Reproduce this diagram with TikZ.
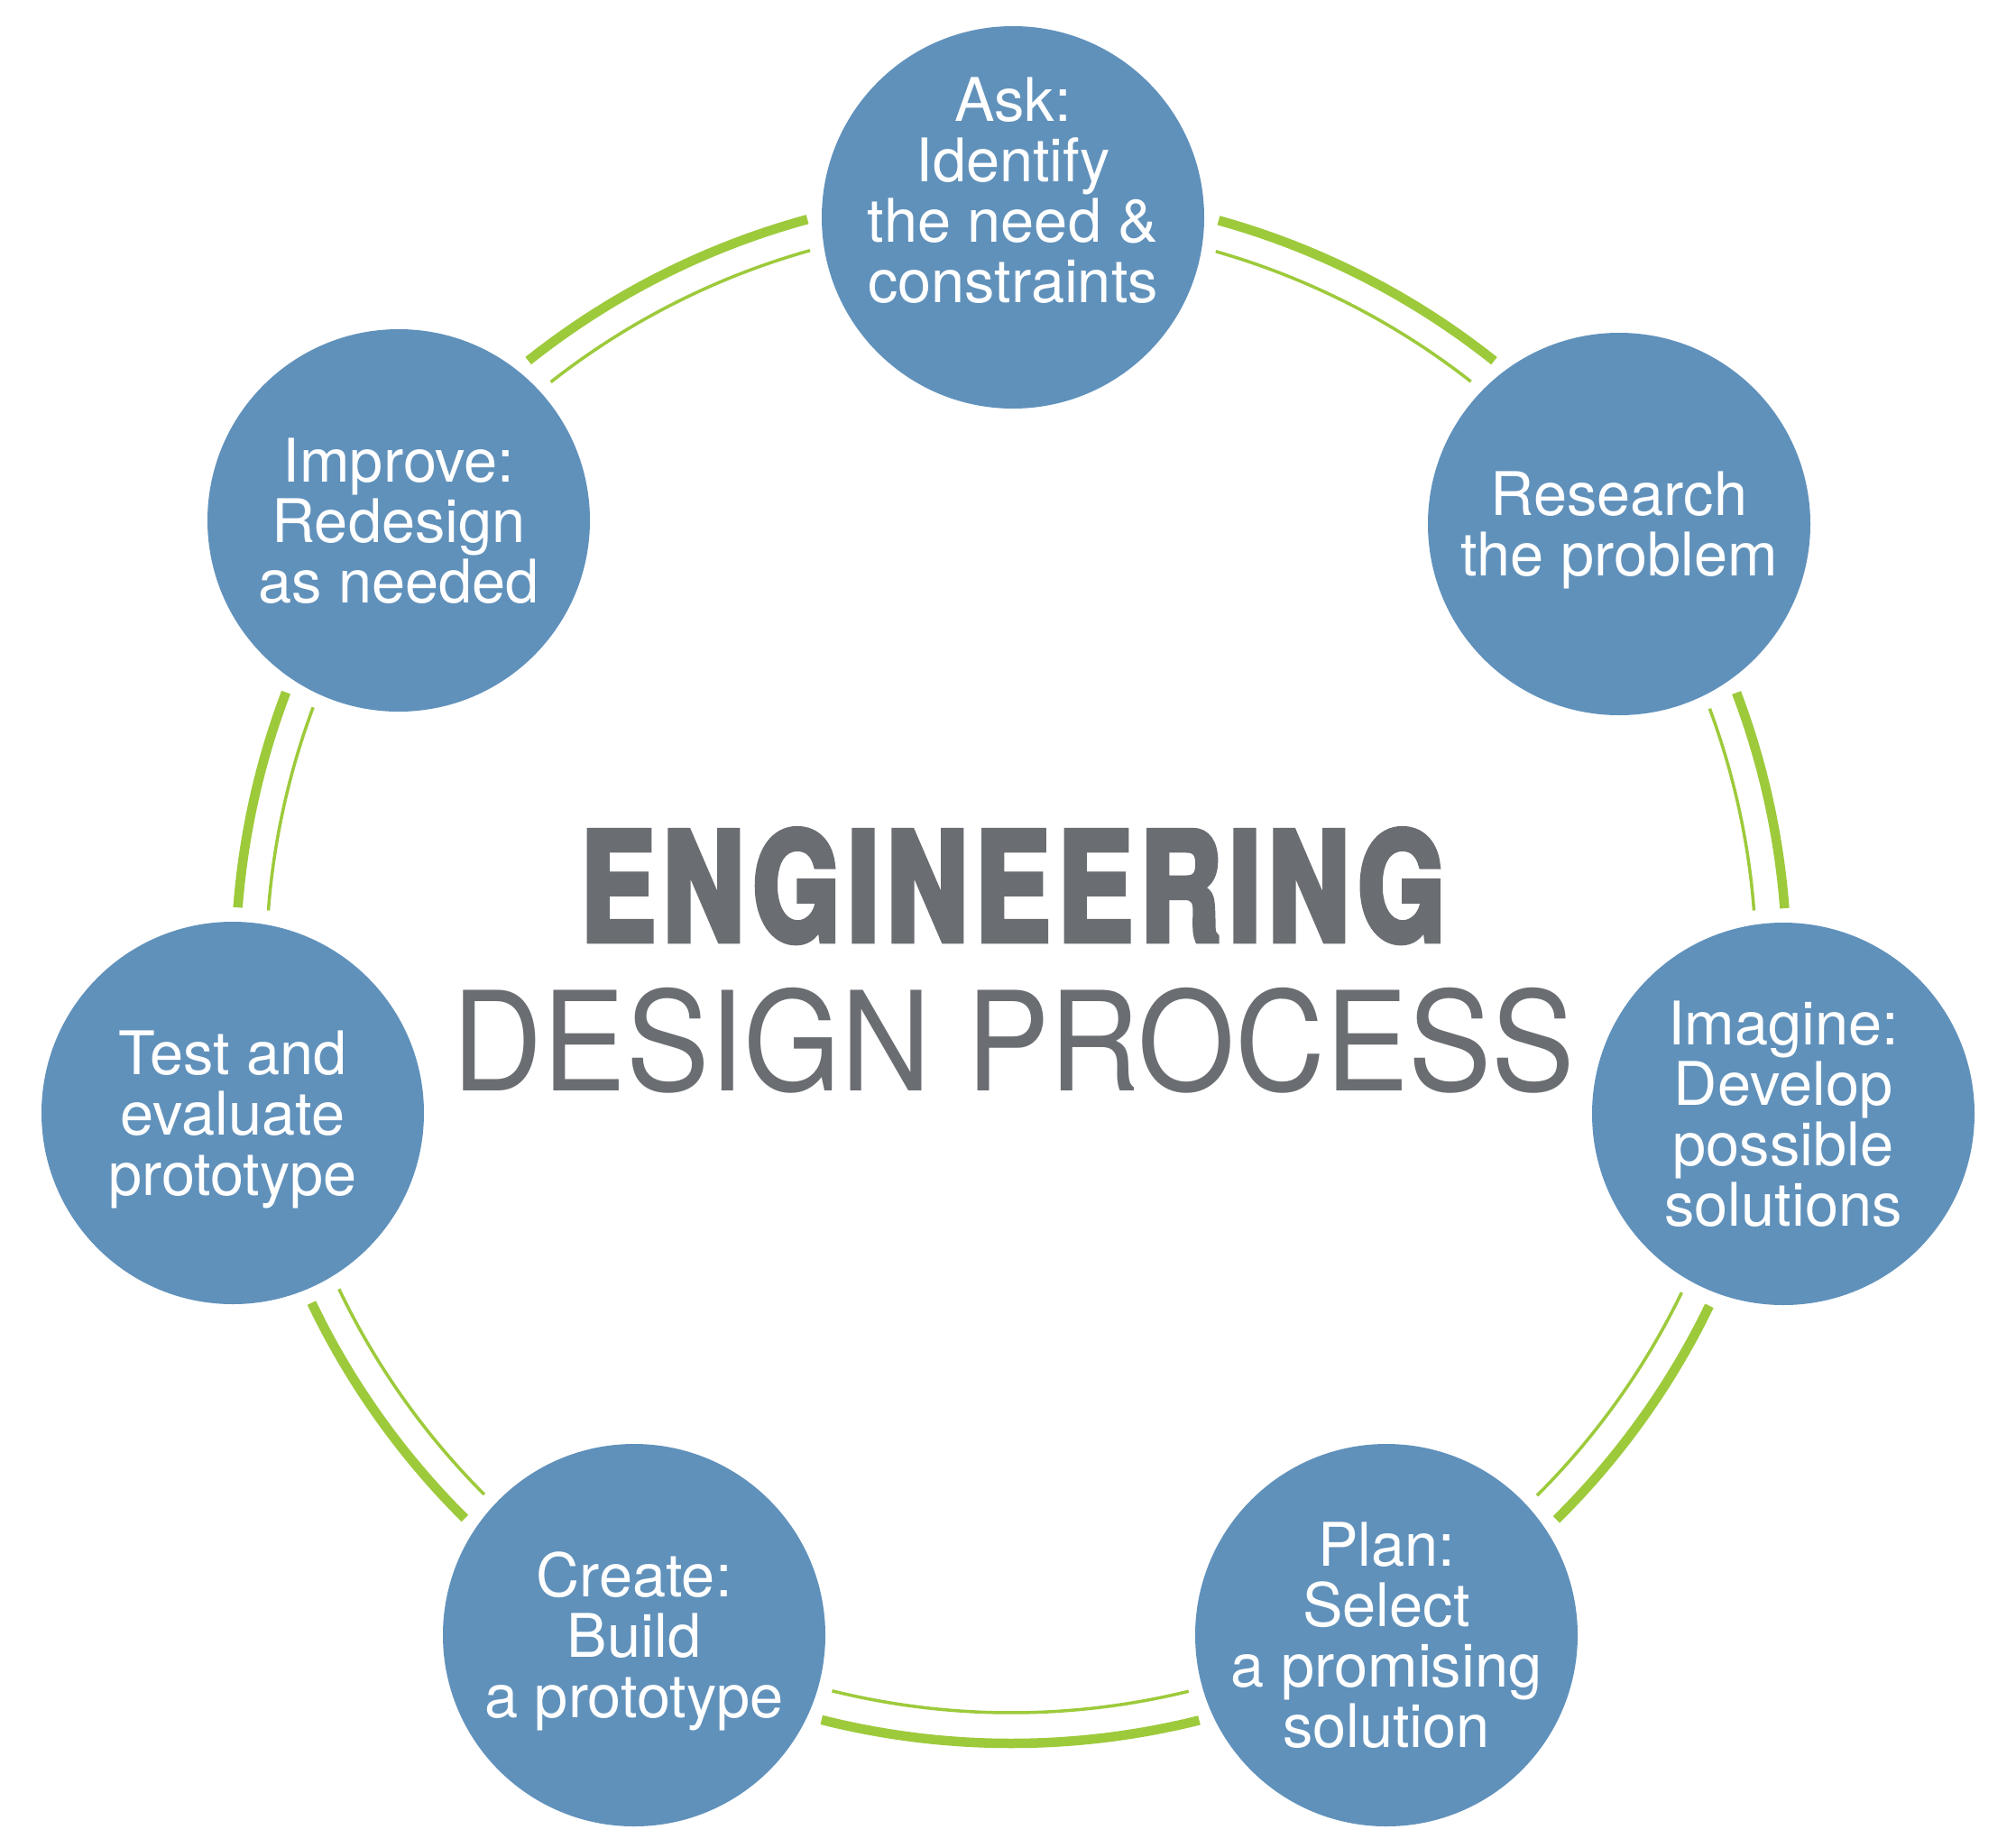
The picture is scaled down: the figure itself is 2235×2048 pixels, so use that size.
\documentclass[tikz,border=0pt]{standalone}
\usepackage{fontspec}
\setmainfont{TeX Gyre Heros}
\newfontfamily\engfont{TeX Gyre Heros}[FakeStretch=0.74, LetterSpace=5.4, BoldFeatures={FakeBold=4}]
\newfontfamily\desfont{TeX Gyre Heros}[FakeStretch=0.905]
\definecolor{cblue}{HTML}{6091BB}
\definecolor{cgreen}{HTML}{9DCA3B}
\definecolor{cgrey}{HTML}{6A6D71}
\tikzset{
  circ/.style={circle, fill=cblue, minimum size=424pt, inner sep=0pt, text=white,
    align=center, text depth=0pt, font=\fontsize{66.7}{67}\selectfont},
  txt/.style={inner sep=0pt, text=white, align=center, text depth=0pt,
    font=\fontsize{66.7}{67}\selectfont},
  thickarc/.style={draw=cgreen, line width=10.5pt},
  thinarc/.style={draw=cgreen, line width=3.5pt},
}
\begin{document}
\begin{tikzpicture}[x=1pt,y=1pt]
\fill[white] (0,0) rectangle (2235,-2048);
\useasboundingbox (0,0) rectangle (2235,-2048);
\coordinate (O) at (1121,-1073);

% circles
\node[circ] (A) at (1123,-241) {};
\node[txt] (At) at ([yshift=30pt]A.center) {Ask:\\Identify\\the need \&\\constraints};
\node[circ] (B) at (1795,-581) {Research\\the problem};
\node[circ] (C) at (1977,-1235) {Imagine:\\Develop\\possible\\solutions};
\node[circ] (D) at (1537,-1813) {Plan:\\Select\\a promising\\solution};
\node[circ] (E) at (703,-1813) {Create:\\Build\\a prototype};
\node[circ] (F) at (258,-1234) {Test and\\evaluate\\prototype};
\node[circ] (G) at (442,-577) {Improve:\\Redesign\\as needed};

% connecting double arcs
\draw[thickarc] ([shift={(74.49:860)}]O) arc[start angle=74.49, end angle=51.49, radius=860];
\draw[thinarc]  ([shift={(74.06:826)}]O) arc[start angle=74.06, end angle=51.90, radius=826];
\draw[thickarc] ([shift={(20.77:860)}]O) arc[start angle=20.77, end angle=4.40, radius=860];
\draw[thinarc]  ([shift={(20.36:826)}]O) arc[start angle=20.36, end angle=4.41, radius=826];
\draw[thickarc] ([shift={(-25.84:860)}]O) arc[start angle=-25.84, end angle=-45.35, radius=860];
\draw[thinarc]  ([shift={(-25.85:826)}]O) arc[start angle=-25.85, end angle=-45.10, radius=826];
\draw[thickarc] ([shift={(-75.97:860)}]O) arc[start angle=-75.97, end angle=-104.15, radius=860];
\draw[thinarc]  ([shift={(-76.22:826)}]O) arc[start angle=-76.22, end angle=-103.91, radius=826];
\draw[thickarc] ([shift={(225.23:860)}]O) arc[start angle=225.23, end angle=205.60, radius=860];
\draw[thinarc]  ([shift={(224.99:826)}]O) arc[start angle=224.99, end angle=205.55, radius=826];
\draw[thickarc] ([shift={(175.54:860)}]O) arc[start angle=175.54, end angle=159.20, radius=860];
\draw[thinarc]  ([shift={(175.59:826)}]O) arc[start angle=175.59, end angle=159.54, radius=826];
\draw[thickarc] ([shift={(128.50:860)}]O) arc[start angle=128.50, end angle=105.23, radius=860];
\draw[thinarc]  ([shift={(128.16:826)}]O) arc[start angle=128.16, end angle=105.66, radius=826];

% title
\node[inner sep=0pt, anchor=base, text=cgrey, font=\engfont\bfseries\fontsize{167}{167}\selectfont] (T1) at (1123,-1043) {ENGINEERING};
\node[inner sep=0pt, anchor=base, text=cgrey, font=\desfont\fontsize{153}{153}\selectfont] (T2) at (1124,-1209) {DESIGN PROCESS};
\end{tikzpicture}
\end{document}
